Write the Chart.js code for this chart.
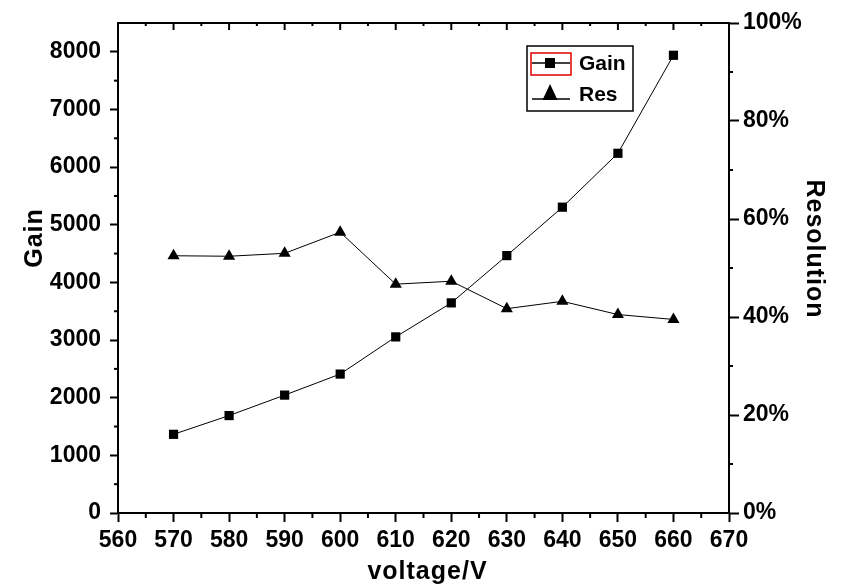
<!DOCTYPE html>
<html>
<head>
<meta charset="utf-8">
<title>Gain and resolution vs voltage</title>
<script src="https://cdn.jsdelivr.net/npm/chart.js@4.4.1/dist/chart.umd.min.js"></script>
<style>
html,body{margin:0;padding:0;background:#fff;}
#wrap{width:842px;height:587px;}
</style>
</head>
<body>
<div id="wrap"><canvas id="chart" width="842" height="587"></canvas></div>
<script>
//voltage values on the x axis
var voltage=[570,580,590,600,610,620,630,640,650,660];
//gain for each voltage (left axis)
var gain=[1365,1690,2045,2410,3055,3645,4465,5305,6240,7940];
//energy resolution in percent (right axis)
var res=[52.5,52.4,53.0,57.3,46.7,47.3,41.7,43.2,40.5,39.5];
//tick labels of the three axes
var xTicks=[560,570,580,590,600,610,620,630,640,650,660,670];
var yTicks=[0,1000,2000,3000,4000,5000,6000,7000,8000];
var y1Ticks=[0,20,40,60,80,100];
//series names used by the legend
var seriesNames=["Gain","Res"];
//axis titles
var xTitle="voltage/V";
var yTitle="Gain";
var y1Title="Resolution";

Chart.defaults.font.family="'Liberation Sans', Arial, sans-serif";
Chart.defaults.font.weight="bold";
Chart.defaults.color="#000";

function toPoints(ys){
    var pts=[];
    for(var i=0;i<voltage.length;i++){
        pts.push({x:voltage[i],y:ys[i]});
    }
    return pts;
}

//replace the generated ticks by a fixed list
function fixedTicks(list){
    return function(scale){
        scale.ticks=list.map(function(v){return {value:v};});
    };
}

//draws the top frame, minor ticks, axis titles and the legend box
var framePlugin={
    id:"frame",
    afterDraw:function(chart){
        var ctx=chart.ctx;
        var a=chart.chartArea;
        var sx=chart.scales.x, sy=chart.scales.y, sy1=chart.scales.y1;
        ctx.save();
        ctx.strokeStyle="#000";
        ctx.lineWidth=2;
        function tick(x1,y1,x2,y2){
            ctx.beginPath();
            ctx.moveTo(x1,y1);
            ctx.lineTo(x2,y2);
            ctx.stroke();
        }
        //top border
        tick(a.left-1,a.top,a.right+1,a.top);
        var v,p,i;
        //top axis ticks, inward
        for(i=0;i<xTicks.length;i++){
            p=sx.getPixelForValue(xTicks[i]);
            tick(p,a.top,p,a.top+7);
        }
        //minor ticks on x
        for(v=sx.min+5;v<sx.max;v+=10){
            p=sx.getPixelForValue(v);
            tick(p,a.bottom,p,a.bottom+5);
            tick(p,a.top,p,a.top+3);
        }
        //minor ticks on left axis
        for(v=500;v<sy.max;v+=1000){
            p=sy.getPixelForValue(v);
            tick(a.left-4,p,a.left,p);
        }
        //minor ticks on right axis
        for(v=10;v<sy1.max;v+=20){
            p=sy1.getPixelForValue(v);
            tick(a.right,p,a.right+4,p);
        }

        //axis titles
        ctx.fillStyle="#000";
        ctx.font="bold 25px 'Liberation Sans', Arial, sans-serif";
        ctx.letterSpacing="1px";
        ctx.textAlign="center";
        ctx.textBaseline="alphabetic";
        ctx.fillText(xTitle,(a.left+a.right)/2+4,579);

        ctx.save();
        ctx.translate(42,238);
        ctx.rotate(-Math.PI/2);
        ctx.fillText(yTitle,0,0);
        ctx.restore();

        ctx.save();
        ctx.translate(807,249);
        ctx.rotate(Math.PI/2);
        ctx.fillText(y1Title,0,0);
        ctx.restore();
        ctx.letterSpacing="0px";

        //legend
        var lx=527, ly=46, lw=106, lh=65;
        ctx.lineWidth=1.5;
        ctx.fillStyle="#fff";
        ctx.fillRect(lx,ly,lw,lh);
        ctx.strokeStyle="#000";
        ctx.strokeRect(lx,ly,lw,lh);
        //selection frame round the first symbol
        ctx.strokeStyle="#e00000";
        ctx.strokeRect(531,53,40,22);

        ctx.strokeStyle="#000";
        ctx.lineWidth=1.5;
        tick(532,63,570,63);
        ctx.fillStyle="#000";
        ctx.fillRect(545,58,10,10);

        tick(532,99,570,99);
        ctx.beginPath();
        ctx.moveTo(550,84);
        ctx.lineTo(557.5,100);
        ctx.lineTo(542.5,100);
        ctx.closePath();
        ctx.fill();

        ctx.font="bold 21px 'Liberation Sans', Arial, sans-serif";
        ctx.textAlign="left";
        ctx.fillText(seriesNames[0],579,70);
        ctx.fillText(seriesNames[1],579,100.5);
        ctx.restore();
    }
};

var tickFont={size:23,weight:"bold"};

new Chart(document.getElementById("chart"),{
    type:"line",
    data:{
        datasets:[{
            label:seriesNames[0],
            data:toPoints(gain),
            yAxisID:"y",
            borderColor:"#000",
            borderWidth:1,
            pointStyle:"rect",
            pointRadius:6.5,
            pointBackgroundColor:"#000",
            pointBorderColor:"#000",
            pointBorderWidth:0,
            tension:0
        },{
            label:seriesNames[1],
            data:toPoints(res),
            yAxisID:"y1",
            borderColor:"#000",
            borderWidth:1,
            pointStyle:"triangle",
            pointRadius:7,
            pointBackgroundColor:"#000",
            pointBorderColor:"#000",
            pointBorderWidth:0,
            tension:0
        }]
    },
    options:{
        responsive:false,
        animation:false,
        layout:{padding:{top:23,left:0,right:0,bottom:0}},
        plugins:{legend:{display:false},tooltip:{enabled:false}},
        scales:{
            x:{
                type:"linear",
                position:"bottom",
                min:560,
                max:670,
                afterBuildTicks:fixedTicks(xTicks),
                ticks:{font:tickFont,padding:5,autoSkip:false,maxRotation:0,color:"#000",
                    callback:function(v){return String(v);}},
                grid:{drawOnChartArea:false,drawTicks:true,tickLength:9,tickWidth:2,tickColor:"#000"},
                border:{color:"#000",width:2},
                afterFit:function(s){s.height=74;}
            },
            y:{
                type:"linear",
                position:"left",
                min:0,
                max:8500,
                afterBuildTicks:fixedTicks(yTicks),
                ticks:{autoSkip:false,font:tickFont,padding:9,color:"#000",
                    callback:function(v){return String(v);}},
                grid:{drawOnChartArea:false,drawTicks:true,tickLength:8,tickWidth:2,tickColor:"#000"},
                border:{color:"#000",width:2},
                afterFit:function(s){s.width=118;}
            },
            y1:{
                type:"linear",
                position:"right",
                min:0,
                max:100,
                afterBuildTicks:fixedTicks(y1Ticks),
                ticks:{autoSkip:false,font:tickFont,padding:4,color:"#000",
                    callback:function(v){return v+"%";}},
                grid:{drawOnChartArea:false,drawTicks:true,tickLength:10,tickWidth:2,tickColor:"#000"},
                border:{color:"#000",width:2},
                afterFit:function(s){s.width=113;}
            }
        }
    },
    plugins:[framePlugin]
});
</script>
</body>
</html>
